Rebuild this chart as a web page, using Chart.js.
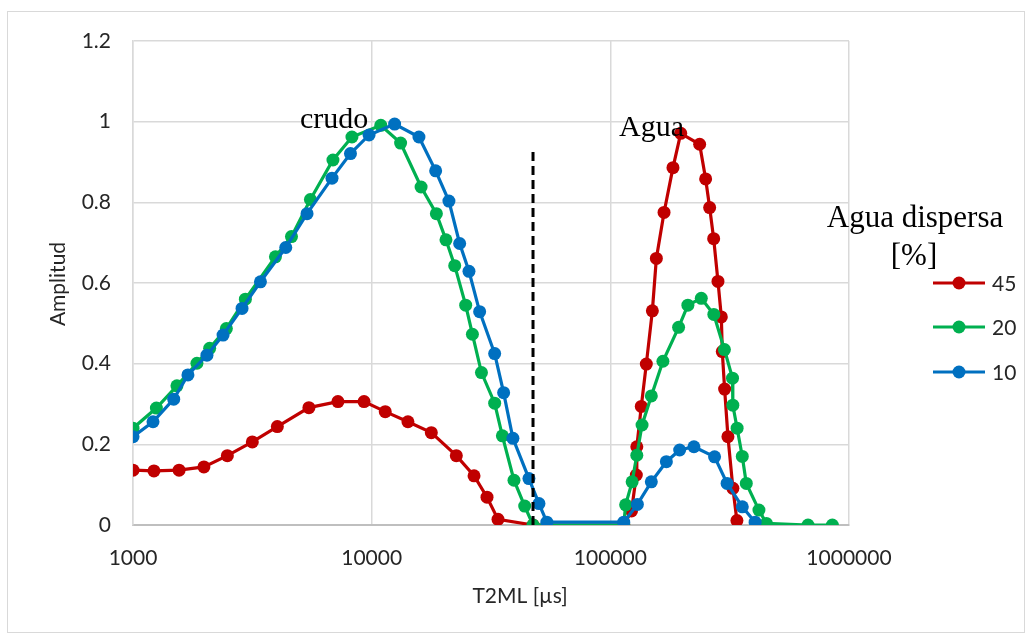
<!DOCTYPE html>
<html>
<head>
<meta charset="utf-8">
<script src="https://cdn.jsdelivr.net/npm/chart.js@4/dist/chart.umd.min.js"></script>
<style>
  body { margin: 0; background: #fff; }
  canvas { display: block; }
</style>
</head>
<body>
<canvas id="t2Chart" width="1031" height="639"></canvas>
<script>
// T2 distribution, log x axis (µs)
const x45 = [1000, 1224, 1560, 1982, 2485, 3162, 4025, 5458, 7222, 9290,
  11400, 14190, 17780, 22630, 26850, 30430, 33830, 47430,
  113800, 122700, 128500, 129100, 134800, 141500, 150000, 155900, 167900, 183000, 197200,
  236700, 250800, 260700, 271000, 282500, 291800, 294500, 301200, 311000, 326300, 339100];
const y45 = [0.136, 0.134, 0.136, 0.144, 0.172, 0.206, 0.244, 0.291, 0.306, 0.306,
  0.281, 0.256, 0.229, 0.172, 0.122, 0.069, 0.014, 0,
  0, 0.035, 0.124, 0.194, 0.294, 0.399, 0.531, 0.661, 0.775, 0.886, 0.971,
  0.944, 0.858, 0.787, 0.710, 0.604, 0.516, 0.430, 0.337, 0.219, 0.091, 0.011];

const x20 = [1000, 1253, 1528, 1853, 2095, 2461, 2957, 3952, 4613, 5537,
  6883, 8267, 10920, 13220, 16110, 18670, 20480, 22280, 24770, 26430,
  28840, 32760, 35290, 39470, 43770, 47430,
  113800, 115900, 123400, 129100, 135800, 148500, 166100, 193200, 211300, 240500, 271400,
  300600, 325000, 326000, 339800, 357200, 371300, 419400, 450500, 673500, 851600];
const y20 = [0.240, 0.290, 0.345, 0.401, 0.438, 0.487, 0.560, 0.665, 0.715, 0.807,
  0.905, 0.962, 0.991, 0.947, 0.838, 0.772, 0.707, 0.643, 0.545, 0.473,
  0.378, 0.302, 0.221, 0.111, 0.047, 0,
  0, 0.050, 0.107, 0.173, 0.248, 0.320, 0.406, 0.490, 0.545, 0.562, 0.522,
  0.435, 0.364, 0.297, 0.240, 0.170, 0.103, 0.037, 0.004, 0, 0];

const x10 = [1000, 1213, 1481, 1699, 2041, 2384, 2863, 3420, 4366, 5360,
  6820, 8150, 9750, 12480, 15780, 18540, 21070, 23370, 25570, 28340,
  32760, 35720, 39070, 45600, 50230, 54200,
  113800, 129800, 148500, 171700, 195200, 224000, 273400, 308500, 357200, 404300];
const y10 = [0.219, 0.256, 0.312, 0.372, 0.421, 0.471, 0.537, 0.603, 0.688, 0.772,
  0.860, 0.921, 0.967, 0.994, 0.962, 0.878, 0.803, 0.698, 0.629, 0.529,
  0.425, 0.328, 0.215, 0.115, 0.053, 0.007,
  0.007, 0.051, 0.107, 0.157, 0.186, 0.194, 0.169, 0.103, 0.045, 0.007];

const seriesLabels = ["45", "20", "10"];
const seriesColors = ["#C00000", "#00B050", "#0070C0"];
const xTicks = [1000, 10000, 100000, 1000000];
const dividerX = 47430;
const dividerTop = 0.93;

const toPoints = (xs, ys) => xs.map((x, i) => ({x: x, y: ys[i]}));

function lineSet(i, xs, ys) {
  return {
    label: seriesLabels[i],
    data: toPoints(xs, ys),
    borderColor: seriesColors[i],
    backgroundColor: seriesColors[i],
    pointBackgroundColor: seriesColors[i],
    pointBorderWidth: 0,
    pointRadius: 6.5,
    borderWidth: 3.2,
    showLine: true,
    order: 3 - i
  };
}

const sans = "Lato, 'Open Sans', sans-serif";
const serif = "'Liberation Serif', 'DejaVu Serif', serif";

const extras = {
  id: "extras",
  beforeDraw(chart) {
    const c = chart.ctx;
    c.save();
    c.fillStyle = "#fff";
    c.fillRect(0, 0, chart.width, chart.height);
    c.strokeStyle = "#d9d9d9";
    c.lineWidth = 1;
    c.strokeRect(7.5, 11.5, 1017, 621);
    c.restore();
  },
  afterDraw(chart) {
    const c = chart.ctx;
    c.save();
    c.fillStyle = "#000";
    c.textBaseline = "alphabetic";

    // annotations
    c.font = "30px " + serif;
    c.textAlign = "left";
    c.fillText("crudo", 300, 128);
    c.fillText("Agua", 619, 136);

    // legend title
    c.font = "31px " + serif;
    c.textAlign = "center";
    c.fillText("Agua dispersa", 915, 227);
    c.fillText("[%]", 914, 265);

    // legend entries
    c.font = "21px " + sans;
    c.textAlign = "left";
    c.textBaseline = "middle";
    const rows = [283, 327, 372];
    seriesLabels.forEach((lab, i) => {
      const y = rows[i];
      c.strokeStyle = seriesColors[i];
      c.lineWidth = 3.2;
      c.beginPath();
      c.moveTo(933, y);
      c.lineTo(985, y);
      c.stroke();
      c.fillStyle = seriesColors[i];
      c.beginPath();
      c.arc(959, y, 6.5, 0, Math.PI * 2);
      c.fill();
      c.fillStyle = "#262626";
      c.fillText(lab, 992, y + 1);
    });

    // axis titles
    c.fillStyle = "#262626";
    c.textAlign = "center";
    c.textBaseline = "alphabetic";
    c.fillText("T2ML [µs]", 520, 603);
    c.translate(65, 284);
    c.rotate(-Math.PI / 2);
    c.fillText("Amplitud", 0, 0);
    c.restore();
  }
};

new Chart("t2Chart", {
  type: "scatter",
  data: {
    datasets: [
      lineSet(0, x45, y45),
      lineSet(1, x20, y20),
      lineSet(2, x10, y10),
      {
        label: "divider",
        data: [{x: dividerX, y: 0}, {x: dividerX, y: dividerTop}],
        showLine: true,
        borderColor: "#000",
        borderWidth: 3,
        borderDash: [9, 5],
        pointRadius: 0,
        order: 0
      }
    ]
  },
  plugins: [extras],
  options: {
    responsive: false,
    animation: false,
    devicePixelRatio: 1,
    layout: {padding: {top: 41, right: 182, left: 0, bottom: 0}},
    plugins: {
      legend: {display: false},
      tooltip: {enabled: false}
    },
    scales: {
      x: {
        type: "logarithmic",
        min: 1000,
        max: 1000000,
        afterBuildTicks: (s) => { s.ticks = xTicks.map(v => ({value: v})); },
        afterFit: (s) => { s.height = 114; },
        grid: {color: "#d9d9d9", lineWidth: 1.5, drawTicks: false},
        border: {color: "#bfbfbf", width: 2},
        ticks: {
          color: "#262626",
          font: {family: sans, size: 21},
          padding: 21,
          maxRotation: 0,
          autoSkip: false,
          callback: (v) => String(v)
        }
      },
      y: {
        min: 0,
        max: 1.2,
        afterFit: (s) => { s.width = 133; },
        grid: {color: "#d9d9d9", lineWidth: 1.5, drawTicks: false},
        border: {color: "#d9d9d9", width: 1.5},
        ticks: {
          stepSize: 0.2,
          color: "#262626",
          font: {family: sans, size: 21},
          padding: 22,
          callback: (v) => String(parseFloat(v.toFixed(1)))
        }
      }
    }
  }
});
</script>
</body>
</html>
